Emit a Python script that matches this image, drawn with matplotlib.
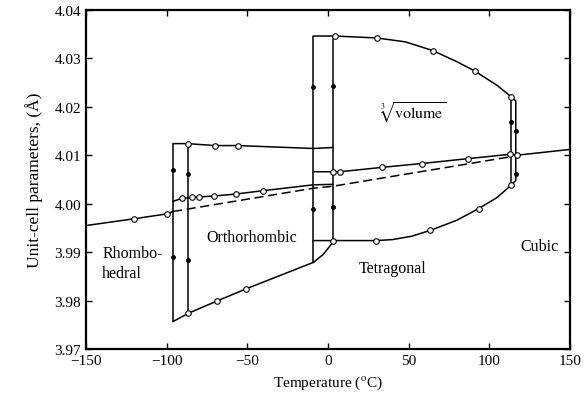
import matplotlib
matplotlib.use('Agg')
import matplotlib.pyplot as plt

plt.rcParams['font.family'] = ['Liberation Serif', 'DejaVu Serif']
plt.rcParams['mathtext.fontset'] = 'stix'

# --- data ---
# rhombohedral cube-root-volume line (solid)
rh_T = [-150, -120, -100, -96]
rh_a = [3.9955, 3.9969, 3.9979, 3.9984]
rh_circ_T = [-120, -100]
rh_circ_a = [3.9969, 3.9979]

# dashed line (cooling branch)
dash_T = [-96, -9, 3, 113.5]
dash_a = [3.9984, 4.0032, 4.0036, 4.0097]

# orthorhombic upper parameter
ort_top_T = [-96, -87, -70, -56, -9, 3]
ort_top_a = [4.0124, 4.0124, 4.0120, 4.0120, 4.0114, 4.0116]
ort_top_circ_T = [-87, -70, -56]
ort_top_circ_a = [4.0124, 4.0120, 4.0120]

# orthorhombic middle parameter
ort_mid_T = [-96, -90.5, -84, -80, -70.5, -57, -40, -9, 3]
ort_mid_a = [4.0005, 4.0011, 4.0013, 4.0014, 4.0016, 4.0020, 4.0027, 4.0039, 4.0040]
ort_mid_circ_T = [-90.5, -84, -80, -70.5, -57, -40]
ort_mid_circ_a = [4.0011, 4.0013, 4.0014, 4.0016, 4.0020, 4.0027]

# orthorhombic lower parameter
ort_low_T = [-96, -86.5, -69, -51, -9]
ort_low_a = [3.9757, 3.9774, 3.9799, 3.9824, 3.9879]
ort_low_circ_T = [-86.5, -69, -51]
ort_low_circ_a = [3.9774, 3.9799, 3.9824]

# connector at the ortho/tetra transition
conn_T = [-9, -3, 3]
conn_a = [3.9879, 3.9895, 3.9920]

# tetragonal c
tet_c_T = [-9, 3, 4.3, 30.4, 48, 65, 80, 91, 105, 113.5]
tet_c_a = [4.0346, 4.0346, 4.0346, 4.0342, 4.0334, 4.0316, 4.0293, 4.0274, 4.0244, 4.0221]
tet_c_circ_T = [4.3, 30.4, 65, 91, 113.5]
tet_c_circ_a = [4.0346, 4.0342, 4.0316, 4.0274, 4.0221]

# tetragonal a
tet_a_T = [-9, 3, 30, 40, 52, 63.5, 80, 93.5, 105, 113.5]
tet_a_a = [3.9924, 3.9924, 3.9924, 3.9926, 3.9933, 3.9945, 3.9966, 3.9990, 4.0013, 4.0038]
tet_a_circ_T = [3, 30, 63.5, 93.5, 113.5]
tet_a_circ_a = [3.9924, 3.9924, 3.9945, 3.9990, 4.0038]

# tetragonal/cubic cube-root-volume line (solid)
vol_T = [-9, 3, 7.5, 33.5, 58.3, 86.8, 113, 117, 150]
vol_a = [4.0066, 4.0066, 4.0066, 4.0075, 4.0083, 4.0093, 4.0102, 4.0100, 4.0112]
vol_circ_T = [3, 7.5, 33.5, 58.3, 86.8, 113, 117]
vol_circ_a = [4.0066, 4.0066, 4.0075, 4.0083, 4.0093, 4.0102, 4.0100]

# hysteresis verticals (T, a_bottom, a_top)
vert_T = [-96, -87, -9, 3, 113.5]
vert_lo = [3.9757, 3.9774, 3.9879, 3.9924, 4.0038]
vert_hi = [4.0124, 4.0124, 4.0346, 4.0346, 4.0221]

# rounded cubic-side loop
cub_T = [113.5, 116.5, 116.5, 113.5]
cub_a = [4.0221, 4.0212, 4.0048, 4.0038]

# small filled direction dots on the verticals
dot_T = [-96, -96, -87, -87, -9, -9, 3, 3, 113.5, 116.5, 116.5]
dot_a = [4.0069, 3.9891, 4.0062, 3.9883, 4.0241, 3.9990, 4.0243, 3.9994, 4.0169, 4.0151, 4.0062]

fig = plt.figure(figsize=(5.85, 4.02), dpi=100)
ax = fig.add_axes([0.147, 0.129, 0.827, 0.844])

lw = 1.1
k = 'black'
circ = dict(ls='none', marker='o', ms=4, mfc='white', mec=k, mew=0.8, zorder=4)

ax.plot(rh_T, rh_a, color=k, lw=lw)
ax.plot(rh_circ_T, rh_circ_a, **circ)
ax.plot(dash_T, dash_a, color=k, lw=lw, ls=(0, (6, 3)))

for T, a, cT, ca in [(ort_top_T, ort_top_a, ort_top_circ_T, ort_top_circ_a),
                     (ort_mid_T, ort_mid_a, ort_mid_circ_T, ort_mid_circ_a),
                     (ort_low_T, ort_low_a, ort_low_circ_T, ort_low_circ_a),
                     (tet_c_T, tet_c_a, tet_c_circ_T, tet_c_circ_a),
                     (tet_a_T, tet_a_a, tet_a_circ_T, tet_a_circ_a),
                     (vol_T, vol_a, vol_circ_T, vol_circ_a)]:
    ax.plot(T, a, color=k, lw=lw)
    ax.plot(cT, ca, **circ)

ax.plot(conn_T, conn_a, color=k, lw=lw)
ax.vlines(vert_T, vert_lo, vert_hi, color=k, lw=lw)
ax.plot(cub_T, cub_a, color=k, lw=lw)
ax.plot(dot_T, dot_a, ls='none', marker='o', ms=2.5, color=k)

# phase labels
fs = 11.5
ax.text(-140, 3.9878, 'Rhombo-\nhedral', fontsize=fs, ha='left', va='center', linespacing=1.3)
ax.text(-47, 3.9932, 'Orthorhombic', fontsize=fs, ha='center', va='center')
ax.text(40, 3.9868, 'Tetragonal', fontsize=fs, ha='center', va='center')
ax.text(131.5, 3.9913, 'Cubic', fontsize=fs, ha='center', va='center')
ax.text(52.7, 4.0190, r'$\sqrt[3]{\mathrm{volume}}$', fontsize=fs, ha='center', va='center')

ax.set_xlim(-150, 150)
ax.set_ylim(3.97, 4.04)
ax.set_xticks([-150, -100, -50, 0, 50, 100, 150])
ax.set_yticks([3.97, 3.98, 3.99, 4.00, 4.01, 4.02, 4.03, 4.04])
ax.set_yticklabels(['%.2f' % v for v in ax.get_yticks()])
ax.tick_params(direction='in', top=True, right=True, labelsize=11, width=1.0, length=4)

for s in ax.spines.values():
    s.set_linewidth(1.6)

ax.set_xlabel(r'Temperature ($^{\rm o}$C)', fontsize=11, labelpad=5)
ax.set_ylabel('Unit-cell parameters, (Å)', fontsize=12.5, labelpad=8)

plt.savefig('out.png', dpi=100)
